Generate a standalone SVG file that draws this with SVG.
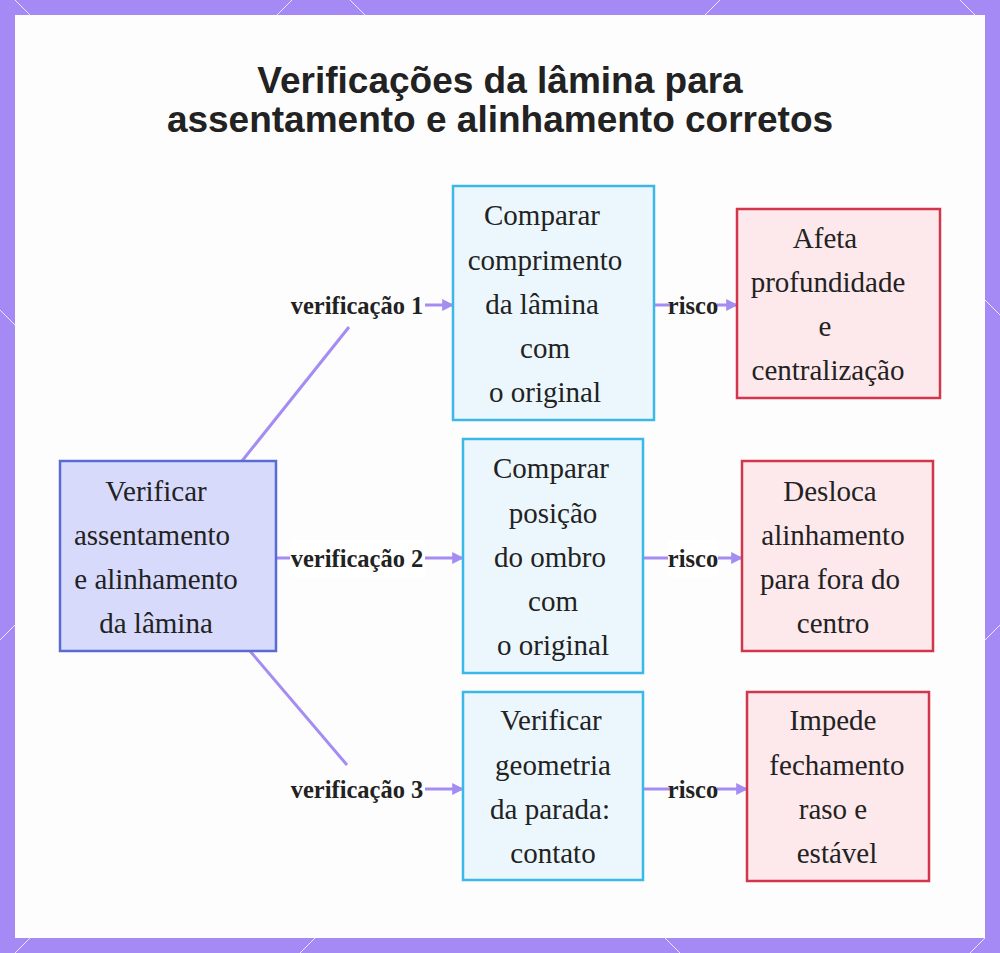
<svg xmlns="http://www.w3.org/2000/svg" width="1000" height="953" viewBox="0 0 1000 953">
<defs>
<style>
.n text{font-family:"Liberation Serif",serif;font-size:29px;fill:#222;text-anchor:middle;dominant-baseline:central}
.b{fill:#d8dafc;stroke:#5b6bd6;stroke-width:2.5}
.c{fill:#ecf7fd;stroke:#3bb8e8;stroke-width:2.5}
.r{fill:#fde8ec;stroke:#d2364a;stroke-width:2.5}
.e{stroke:#a58cf2;stroke-width:3;fill:none}
.l{font-family:"Liberation Serif",serif;font-size:24.5px;font-weight:bold;fill:#222;text-anchor:middle;dominant-baseline:central}
.bd{stroke:#fff;stroke-width:1;opacity:.8}
</style>
<marker id="a" viewBox="0 0 10 10" refX="9" refY="5" markerWidth="4" markerHeight="4" orient="auto"><path d="M0,0L10,5L0,10z" fill="#a58cf2"/></marker>
</defs>
<rect width="1000" height="953" fill="#a589f5"/>
<g class="bd">
<path d="M15,0L30,15M292,0L277,15M350,0L365,15M720,0L705,15M960,0L975,15M0,310L15,325M0,640L15,625M985,300L1000,315M985,640L1000,625M15,953L30,938M300,953L315,938M680,953L665,938M970,953L985,938"/>
</g>
<rect x="15" y="15" width="970" height="923" fill="#fdfdfd"/>
<text x="500" y="80" font-family="Liberation Sans,sans-serif" font-size="37" font-weight="bold" fill="#222" text-anchor="middle" dominant-baseline="central">Verificações da lâmina para</text>
<text x="500" y="119" font-family="Liberation Sans,sans-serif" font-size="37" font-weight="bold" fill="#222" text-anchor="middle" dominant-baseline="central">assentamento e alinhamento corretos</text>
<g id="connectors">
<path class="e" d="M242,461L349,327"/>
<path class="e" d="M425,305H453" marker-end="url(#a)"/>
<path class="e" d="M276,558H292"/>
<path class="e" d="M425,558H463" marker-end="url(#a)"/>
<path class="e" d="M250,651L347,765"/>
<path class="e" d="M425,789H463" marker-end="url(#a)"/>
<path class="e" d="M654,305H670"/>
<path class="e" d="M717,305H737" marker-end="url(#a)"/>
<path class="e" d="M643,558H670"/>
<path class="e" d="M717,558H742" marker-end="url(#a)"/>
<path class="e" d="M643,789H670"/>
<path class="e" d="M717,789H747" marker-end="url(#a)"/>
<text class="l" x="357" y="305">verificação 1</text>
<rect x="290" y="540" width="135" height="37" fill="#fff"/>
<text class="l" x="357" y="558">verificação 2</text>
<text class="l" x="357" y="789">verificação 3</text>
<text class="l" x="693" y="305">risco</text>
<rect x="668" y="540" width="50" height="37" fill="#fff"/>
<text class="l" x="693" y="558">risco</text>
<text class="l" x="693" y="789">risco</text>
</g>
<g id="root" class="n"><rect class="b" x="60" y="461" width="216" height="190"/>
<text x="156" y="491">Verificar</text><text x="152" y="535">assentamento</text><text x="156" y="579">e alinhamento</text><text x="156" y="623">da lâmina</text></g>
<g id="c1" class="n"><rect class="c" x="453" y="186" width="201" height="234"/>
<text x="542" y="215">Comparar</text><text x="545" y="260">comprimento</text><text x="542" y="304">da lâmina</text><text x="545" y="348">com</text><text x="545" y="392">o original</text></g>
<g id="c2" class="n"><rect class="c" x="463" y="439" width="180" height="234"/>
<text x="551" y="468">Comparar</text><text x="553" y="513">posição</text><text x="550" y="557">do ombro</text><text x="553" y="601">com</text><text x="553" y="645">o original</text></g>
<g id="c3" class="n"><rect class="c" x="463" y="692" width="180" height="188"/>
<text x="551" y="720">Verificar</text><text x="553" y="765">geometria</text><text x="550" y="809">da parada:</text><text x="553" y="853">contato</text></g>
<g id="r1" class="n"><rect class="r" x="737" y="209" width="203" height="189"/>
<text x="825" y="238">Afeta</text><text x="828" y="282">profundidade</text><text x="825" y="326">e</text><text x="828" y="370">centralização</text></g>
<g id="r2" class="n"><rect class="r" x="742" y="461" width="191" height="190"/>
<text x="830" y="491">Desloca</text><text x="833" y="535">alinhamento</text><text x="830" y="579">para fora do</text><text x="833" y="623">centro</text></g>
<g id="r3" class="n"><rect class="r" x="747" y="692" width="182" height="189"/>
<text x="833" y="720">Impede</text><text x="837" y="765">fechamento</text><text x="833" y="809">raso e</text><text x="837" y="853">estável</text></g>
</svg>
